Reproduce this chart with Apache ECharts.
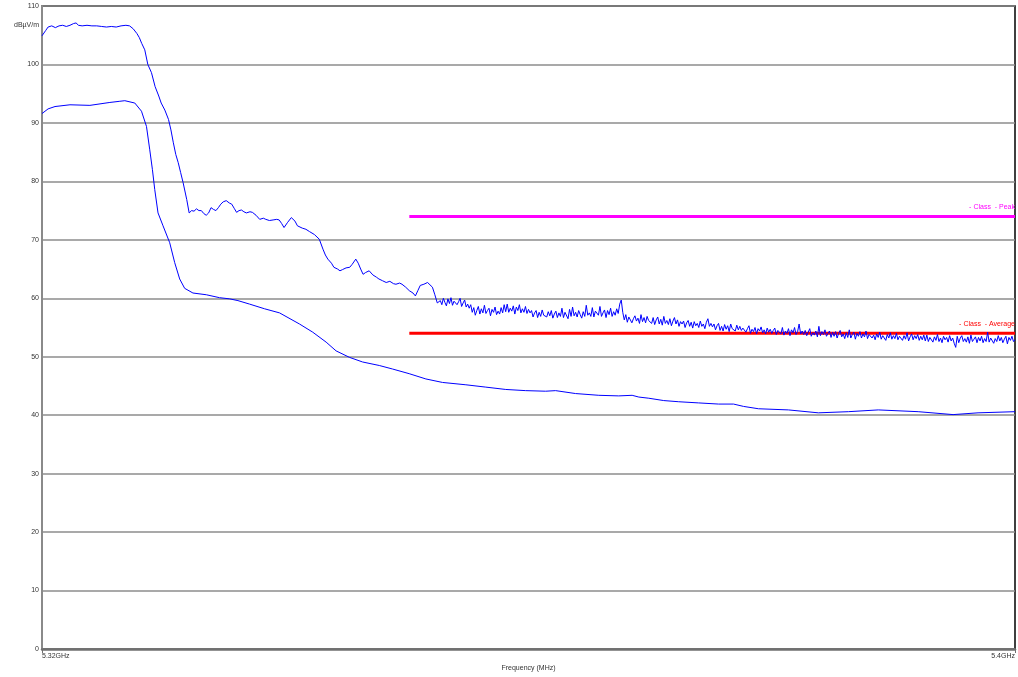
<!DOCTYPE html>
<html>
<head>
<meta charset="utf-8">
<script src="https://cdn.jsdelivr.net/npm/echarts@6/dist/echarts.min.js"></script>
<style>
html,body{margin:0;padding:0;background:#fff;}
#chart{width:1018px;height:677px;}
</style>
</head>
<body>
<div id="chart"></div>
<script>
// Frequency axis (MHz) and level axis (dBµV/m)
var xMin = 5320, xMax = 5400;
var xTickLabels = ['5.32GHz', '5.4GHz'];
var yMin = 0, yMax = 110, yStep = 10;

// Peak trace, smooth part: [MHz, dBµV/m]
var peakSmooth = [
 [5320.0,104.9],[5320.3,105.8],[5320.5,106.4],[5320.8,106.6],[5321.1,106.3],[5321.4,106.6],
 [5321.7,106.7],[5322.0,106.5],[5322.3,106.7],[5322.6,107.0],[5322.8,107.1],[5323.0,106.7],
 [5323.3,106.6],[5323.7,106.7],[5324.1,106.6],[5324.5,106.6],[5324.9,106.5],[5325.3,106.4],
 [5325.7,106.5],[5326.1,106.4],[5326.5,106.6],[5326.9,106.7],[5327.2,106.6],[5327.5,106.1],
 [5327.8,105.3],[5328.0,104.6],[5328.2,103.6],[5328.45,102.5],[5328.7,100.0],[5329.0,98.6],
 [5329.3,96.2],[5329.6,94.6],[5329.8,93.4],[5330.1,92.2],[5330.4,90.6],[5330.6,88.8],
 [5330.8,86.6],[5331.0,84.6],[5331.2,83.2],[5331.4,81.5],[5331.6,79.8],[5331.9,76.9],
 [5332.1,74.6],[5332.3,75.0],[5332.5,74.9],[5332.7,75.3],[5332.9,75.0],[5333.1,75.0],
 [5333.3,74.5],[5333.5,74.2],[5333.7,74.6],[5333.9,75.5],[5334.1,75.2],[5334.3,75.0],
 [5334.5,75.5],[5334.7,76.1],[5334.9,76.5],[5335.15,76.7],[5335.4,76.3],[5335.6,76.1],
 [5335.8,75.4],[5336.0,74.7],[5336.2,75.0],[5336.4,75.1],[5336.6,74.8],[5336.8,74.6],
 [5337.1,74.8],[5337.3,74.7],[5337.6,74.2],[5337.9,73.5],[5338.2,73.7],[5338.4,73.5],
 [5338.7,73.3],[5339.0,73.4],[5339.3,73.5],[5339.5,73.4],[5339.7,72.8],[5339.9,72.1],
 [5340.2,73.0],[5340.5,73.8],[5340.8,73.2],[5341.0,72.4],[5341.4,72.0],[5341.7,71.8],
 [5342.0,71.4],[5342.4,70.9],[5342.8,70.1],[5343.1,68.4],[5343.3,67.4],[5343.5,66.7],
 [5343.8,66.0],[5344.0,65.3],[5344.3,65.0],[5344.5,64.7],[5344.7,64.9],[5345.0,65.2],
 [5345.3,65.3],[5345.5,65.8],[5345.8,66.7],[5346.0,66.0],[5346.2,65.0],[5346.4,64.1],
 [5346.6,64.4],[5346.9,64.7],[5347.2,64.0],[5347.5,63.6],[5347.7,63.3],[5348.0,63.0],
 [5348.3,62.7],[5348.6,62.9],[5348.9,62.5],[5349.1,62.4],[5349.4,62.6],[5349.6,62.4],
 [5349.9,61.9],[5350.2,61.3],[5350.5,60.9],[5350.7,60.4],[5350.9,61.3],[5351.1,62.2],
 [5351.4,62.4],[5351.7,62.7],[5351.9,62.3],[5352.1,61.9],[5352.3,60.6],[5352.5,59.2]
];

// Peak trace, noisy part: sampled every 0.125 MHz from 5352.75 MHz
var peakNoisyStart = 5352.75, peakNoisyStep = 0.125;
var peakNoisy = [
 59.6,58.9,60.0,59.3,58.7,59.9,59.1,60.1,58.8,59.5,59.8,58.9,59.4,60.0,58.6,59.2,59.7,58.5,59.0,58.3,
 58.9,57.6,58.4,57.1,57.9,58.6,57.3,58.2,57.5,58.8,57.4,57.9,58.3,57.0,58.1,57.6,58.5,57.2,57.8,57.3,
 58.4,57.5,58.9,57.7,59.0,57.6,58.3,57.8,58.7,57.3,58.5,57.9,58.9,57.5,58.2,57.6,58.6,57.4,58.1,57.5,
 57.9,56.8,57.5,57.9,56.7,57.6,56.9,58.0,57.1,57.4,56.8,57.7,57.0,57.9,56.6,57.3,57.8,56.7,57.5,56.9,
 58.3,56.7,57.6,57.8,56.5,58.1,56.9,58.5,57.0,57.6,56.8,57.9,57.2,56.6,57.7,56.9,58.8,57.1,57.5,56.9,
 58.4,56.8,57.8,58.1,57.1,58.6,56.9,57.5,58.0,56.7,57.9,57.2,58.3,56.9,57.7,57.1,58.2,57.4,59.0,59.7,
 57.6,56.3,57.2,55.9,56.8,57.1,55.8,56.5,57.0,56.1,56.6,55.7,57.2,56.0,56.7,55.8,56.9,56.2,56.5,55.7,
 56.7,55.5,56.3,56.8,55.6,56.4,55.4,56.9,55.7,56.2,55.5,56.5,55.3,56.1,56.7,55.6,56.3,55.2,56.0,55.6,
 56.1,55.0,55.8,56.2,55.2,55.9,54.9,56.0,55.3,55.7,55.0,56.1,55.2,55.6,54.8,55.9,56.5,55.2,55.7,55.1,
 55.6,54.6,55.3,55.7,54.5,55.2,54.4,55.5,54.7,55.3,54.3,55.6,54.8,55.1,54.4,55.4,54.6,55.2,54.5,54.9,
 55.1,54.2,54.8,55.3,54.0,54.7,54.3,55.0,53.9,54.8,54.4,55.1,54.1,54.6,53.9,54.9,54.2,54.7,54.0,54.5,
 54.9,53.8,54.5,54.7,53.9,55.0,53.7,54.4,54.0,54.8,53.6,54.6,54.1,55.0,53.8,54.3,55.6,53.9,54.4,53.8,
 54.5,53.6,54.2,54.8,53.5,54.1,53.7,54.4,53.4,55.2,53.6,54.3,53.8,54.6,53.5,54.0,54.4,53.3,54.2,53.5,
 54.3,53.2,54.0,54.5,53.4,53.9,53.1,54.1,53.3,54.6,53.2,53.8,54.2,53.0,54.0,53.5,54.3,53.2,53.9,53.4,
 54.4,53.1,53.8,54.0,53.2,53.7,52.9,53.9,53.3,54.2,53.0,53.6,53.9,52.8,53.8,53.2,54.1,53.0,53.6,53.1,
 54.0,52.9,53.5,53.8,52.8,53.6,53.0,54.1,52.7,53.4,53.9,52.9,53.6,53.1,53.8,52.8,53.5,52.9,53.7,52.7,
 53.7,52.6,53.3,53.5,52.5,53.4,52.8,53.8,52.6,53.2,52.4,53.5,52.9,53.3,52.5,53.6,52.7,53.2,52.3,51.6,
 53.5,52.4,53.2,53.6,52.6,53.1,52.5,53.4,52.3,53.7,52.6,53.0,53.4,52.4,53.3,52.7,53.5,52.4,53.1,52.6,
 54.2,52.5,53.2,53.4,52.3,53.1,52.6,53.6,52.7,53.3,52.4,53.0,53.5,52.2,53.3,52.8,53.5,52.6,52.9
];

// Average trace: [MHz, dBµV/m]
var avgTrace = [
 [5320.0,91.6],[5320.5,92.4],[5321.07,92.8],[5322.3,93.1],[5323.94,93.0],[5325.58,93.5],
 [5326.4,93.7],[5326.81,93.8],[5327.63,93.4],[5328.18,92.0],[5328.59,89.4],[5328.86,85.4],
 [5329.08,82.0],[5329.27,78.6],[5329.54,74.6],[5329.95,72.4],[5330.5,69.5],[5330.91,66.1],
 [5331.32,63.3],[5331.73,61.7],[5332.41,60.9],[5333.51,60.6],[5334.6,60.1],[5335.43,59.9],
 [5336.11,59.6],[5337.07,59.0],[5338.3,58.2],[5339.53,57.5],[5341.17,55.6],[5342.26,54.2],
 [5343.36,52.5],[5344.18,51.0],[5345.27,49.9],[5346.36,49.1],[5347.73,48.5],[5348.82,47.9],
 [5350.19,47.1],[5351.56,46.2],[5352.93,45.6],[5354.85,45.2],[5356.49,44.8],[5358.13,44.4],
 [5359.77,44.2],[5361.41,44.1],[5362.23,44.2],[5363.87,43.7],[5365.78,43.4],[5367.42,43.3],
 [5368.52,43.4],[5369.07,43.1],[5369.89,42.9],[5371.12,42.5],[5372.35,42.3],[5373.99,42.1],
 [5375.63,41.9],[5376.86,41.9],[5377.68,41.5],[5378.91,41.1],[5381.37,40.9],[5383.83,40.4],
 [5386.3,40.6],[5388.76,40.9],[5392.04,40.6],[5394.91,40.1],[5396.96,40.4],[5400.0,40.6]
];

// Limit lines
var limitStart = 5350.2, limitEnd = 5400;
var peakLimit = 74, avgLimit = 54;
var peakLimitLabel = '- Class  - Peak';
var avgLimitLabel = '- Class  - Average';

var peakData = peakSmooth.slice();
for (var i = 0; i < peakNoisy.length; i++) {
  peakData.push([peakNoisyStart + i * peakNoisyStep, peakNoisy[i]]);
}

var FONT = "'Liberation Sans Narrow','Liberation Sans',Arial,sans-serif";

function limitSeries(val, color, label) {
  return {
    type: 'line', symbol: 'circle', symbolSize: 0, showSymbol: true, silent: true,
    lineStyle: { color: color, width: 3 },
    itemStyle: { color: color },
    label: { show: false },
    data: [[limitStart, val], {
      value: [limitEnd, val],
      label: { show: true, position: 'top', align: 'right', distance: 6,
        formatter: label, color: color, fontSize: 7, fontFamily: FONT }
    }],
    z: 3
  };
}

var chart = echarts.init(document.getElementById('chart'), null, { renderer: 'canvas' });
chart.setOption({
  animation: false,
  backgroundColor: '#fff',
  title: { text: 'dBµV/m', left: 9, top: 17,
    textStyle: { fontSize: 7, fontWeight: 'normal', color: '#333', fontFamily: FONT } },
  grid: { left: 42, right: 1, top: 6, bottom: 26, show: true,
    borderColor: '#000', borderWidth: 1.5, backgroundColor: '#fff' },
  xAxis: {
    type: 'value', min: xMin, max: xMax, interval: xMax - xMin,
    name: 'Frequency (MHz)', nameLocation: 'middle', nameGap: 16,
    nameTextStyle: { fontSize: 7, color: '#333', fontFamily: FONT },
    axisLine: { show: true, lineStyle: { color: '#707070', width: 2.5 } },
    axisTick: { show: true, length: 4, lineStyle: { color: '#707070' } },
    splitLine: { show: false },
    axisLabel: { fontSize: 7, color: '#333', fontFamily: FONT, margin: 4,
      alignMinLabel: 'left', alignMaxLabel: 'right',
      formatter: function (v) { return v === xMin ? xTickLabels[0] : (v === xMax ? xTickLabels[1] : ''); } }
  },
  yAxis: {
    type: 'value', min: yMin, max: yMax, interval: yStep,
    axisLine: { show: true, lineStyle: { color: '#8a8a8a', width: 2 } },
    axisTick: { show: false },
    splitLine: { show: true, lineStyle: { color: '#8c8c8c', width: 1.5 } },
    axisLabel: { fontSize: 7, color: '#333', fontFamily: FONT, margin: 3 }
  },
  series: [
    { type: 'line', name: 'Peak', symbol: 'none', data: peakData,
      lineStyle: { color: '#0000ff', width: 1 }, z: 4 },
    { type: 'line', name: 'Average', symbol: 'none', data: avgTrace,
      lineStyle: { color: '#0000ff', width: 1 }, z: 4 },
    limitSeries(peakLimit, '#ff00ff', peakLimitLabel),
    limitSeries(avgLimit, '#ff0000', avgLimitLabel)
  ]
});
</script>
</body>
</html>
